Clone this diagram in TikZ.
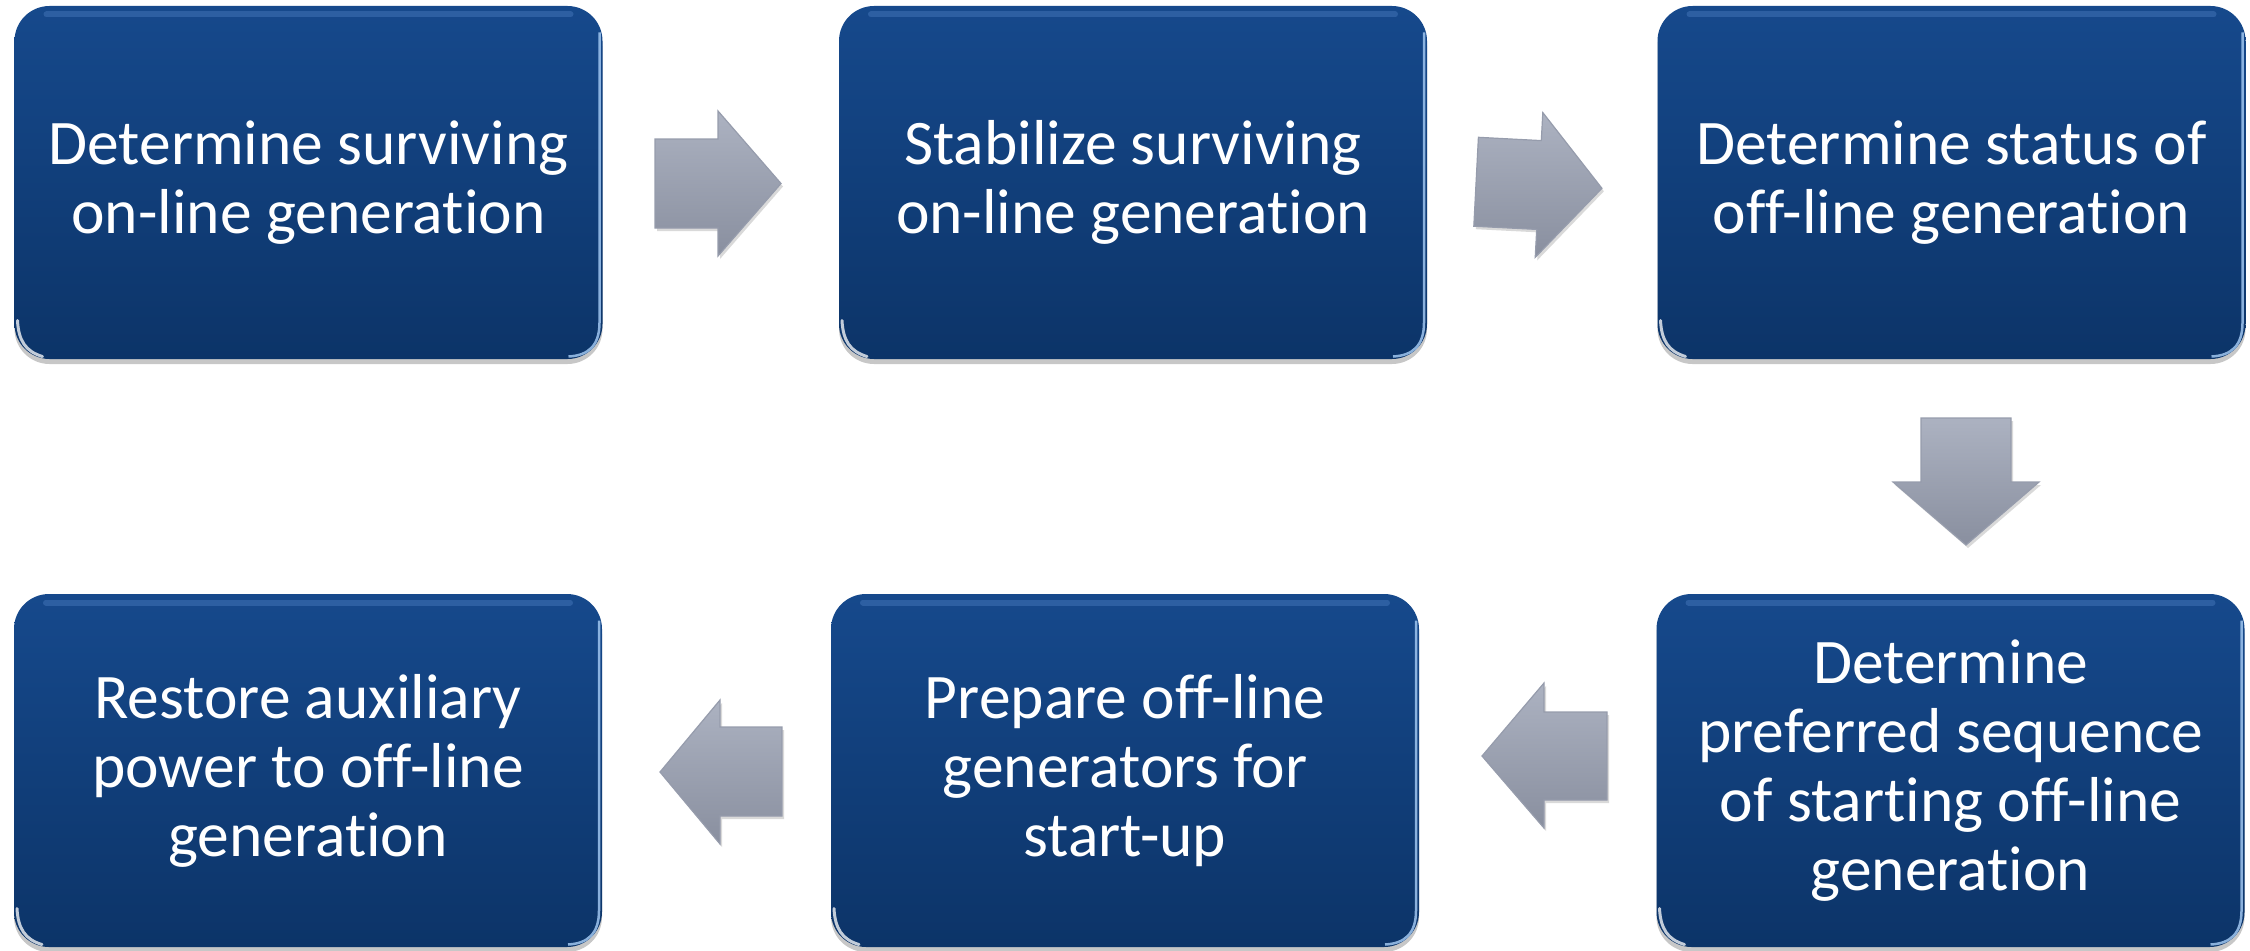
\documentclass[tikz,border=0pt]{standalone}
\usepackage{fontspec}
\setmainfont{Carlito}[RawFeature={-liga,-dlig,-clig}]
\usetikzlibrary{shadows}
\definecolor{boxtop}{RGB}{22,73,140}
\definecolor{boxbot}{RGB}{12,52,104}
\definecolor{arrtop}{RGB}{172,178,193}
\definecolor{arrbot}{RGB}{137,143,159}
\definecolor{arredge}{RGB}{150,156,172}
\definecolor{glint}{RGB}{160,198,240}
\definecolor{sheen}{RGB}{80,130,198}
\begin{document}
\begin{tikzpicture}[x=1pt,y=-1pt,
  stepbox/.style={rectangle, rounded corners=35pt, minimum width=588pt,
    minimum height=353pt, top color=boxtop, bottom color=boxbot, draw=none,
    text=white, align=center, font=\fontsize{63.5}{69}\selectfont,
    drop shadow={shadow xshift=0pt, shadow yshift=-5pt, opacity=0.22, fill=black}},
  blockarrow/.style={top color=arrtop, bottom color=arrbot, draw=arredge,
    line width=1.2pt, line join=miter,
    drop shadow={shadow xshift=2pt, shadow yshift=-3pt, opacity=0.15, fill=black}},
  sheenline/.style={line width=6pt, line cap=round, draw=sheen, opacity=0.4},
  rimline/.style={line width=2.5pt, draw=glint, opacity=0.85},
  glintline/.style={line width=3pt, line cap=round, draw=white, opacity=0.75}
]
\useasboundingbox (0,0) rectangle (2250,950);

% step boxes
\node[stepbox] (b1) at (308.5,182.5) {Determine surviving\\on-line generation};
\node[stepbox] (b2) at (1133,182.5) {Stabilize surviving\\on-line generation};
\node[stepbox] (b3) at (1951.5,182.5) {Determine status of\\off-line generation};
\node[stepbox] (b4) at (1950.5,770.5) {Determine\\preferred sequence\\of starting off-line\\generation};
\node[stepbox] (b5) at (1125,770.5) {Prepare off-line\\generators for\\start-up};
\node[stepbox] (b6) at (308,770.5) {Restore auxiliary\\power to off-line\\generation};

% glossy details on the boxes
\foreach \cx/\cy in {308.5/182.5, 1133/182.5, 1951.5/182.5, 308/770.5, 1125/770.5, 1950.5/770.5} {
  \draw[sheenline] ({\cx-262},{\cy-168}) -- ({\cx+262},{\cy-168});
  \draw[rimline] ({\cx+291},{\cy-150}) -- ({\cx+291},{\cy+140})
     .. controls ({\cx+291},{\cy+163}) and ({\cx+280},{\cy+173}) .. ({\cx+260},{\cy+174});
  \draw[glintline] ({\cx-291},{\cy+138})
     .. controls ({\cx-290},{\cy+158}) and ({\cx-283},{\cy+169}) .. ({\cx-266},{\cy+174});
}

% block arrows
\draw[blockarrow] (655,139) -- (718,139) -- (718,111) -- (781,183.5)
   -- (718,256) -- (718,228) -- (655,228) -- cycle;
\draw[blockarrow] (1478.4,137.3) -- (1541.3,140.6) -- (1542.8,112.6) -- (1601.9,188.3)
   -- (1535.2,257.4) -- (1536.7,229.4) -- (1473.8,226.2) -- cycle;
\draw[blockarrow] (1921,418) -- (2011,418) -- (2011,482) -- (2039,482)
   -- (1966,545) -- (1893,482) -- (1921,482) -- cycle;
\draw[blockarrow] (1607,712) -- (1544,712) -- (1544,683) -- (1482,756)
   -- (1544,828) -- (1544,800) -- (1607,800) -- cycle;
\draw[blockarrow] (782,727) -- (720,727) -- (720,700) -- (660,772)
   -- (720,844) -- (720,816) -- (782,816) -- cycle;
\end{tikzpicture}
\end{document}
